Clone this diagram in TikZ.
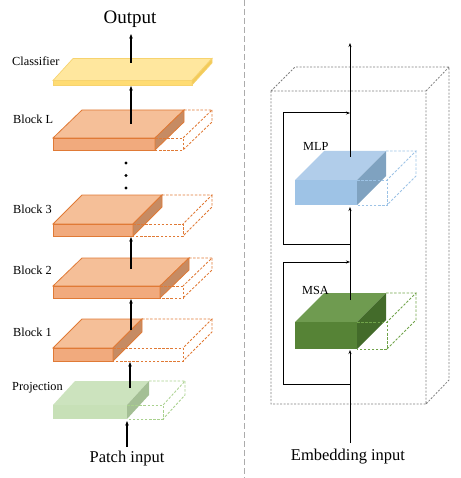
\documentclass[tikz,border=0pt]{standalone}
\usepackage{fontspec}
\setmainfont{Liberation Serif}
\usetikzlibrary{arrows.meta}
\definecolor{orTop}{HTML}{F5BF98}
\definecolor{orFront}{HTML}{F1AA7D}
\definecolor{orSide}{HTML}{C68B63}
\definecolor{orEdge}{HTML}{E07A36}
\definecolor{clTop}{HTML}{FFE79E}
\definecolor{clFront}{HTML}{FFDC73}
\definecolor{clSide}{HTML}{F2CB5A}
\definecolor{clEdge}{HTML}{F7D36E}
\definecolor{prTop}{HTML}{CCE3BE}
\definecolor{prFront}{HTML}{C7E0B7}
\definecolor{prSide}{HTML}{A4BF95}
\definecolor{prEdge}{HTML}{A9D18E}
\definecolor{blTop}{HTML}{B1CDEA}
\definecolor{blFront}{HTML}{9EC3E6}
\definecolor{blSide}{HTML}{7FA2C0}
\definecolor{blEdge}{HTML}{9DC3E6}
\definecolor{gnTop}{HTML}{6F9B50}
\definecolor{gnFront}{HTML}{568336}
\definecolor{gnSide}{HTML}{436B2A}
\definecolor{gnEdge}{HTML}{70A34A}
% #1 x0, #2 yb, #3 h, #4 ws, #5 wd, #6 dx, #7 dy, #8 colour prefix, #9 solid edge style
\newcommand\myslab[9]{%
  \filldraw[#9,fill=#8Top] (#1,{#2-#3}) -- ({#1+#6},{#2-#3-#7}) -- ({#1+#4+#6},{#2-#3-#7}) -- ({#1+#4},{#2-#3}) -- cycle;
  \filldraw[#9,fill=#8Front] (#1,{#2-#3}) rectangle ({#1+#4},#2);
  \filldraw[#9,fill=#8Side] ({#1+#4},{#2-#3}) -- ({#1+#4+#6},{#2-#3-#7}) -- ({#1+#4+#6},{#2-#7}) -- ({#1+#4},#2) -- cycle;
  \ifdim #5pt>#4pt
  \draw[draw=#8Edge,dashpat] ({#1+#4},{#2-#3}) -- ({#1+#5},{#2-#3}) -- ({#1+#5},#2) -- ({#1+#4},#2);
  \draw[draw=#8Edge,dashpat] ({#1+#4+#6},{#2-#3-#7}) -- ({#1+#5+#6},{#2-#3-#7}) -- ({#1+#5},{#2-#3});
  \draw[draw=#8Edge,dashpat] ({#1+#5+#6},{#2-#3-#7}) -- ({#1+#5+#6},{#2-#7}) -- ({#1+#5},#2);
  \fi
}
\tikzset{
  dashpat/.style={line width=0.85pt,dash pattern=on 2.5pt off 1.6pt},
  arr/.style={line width=1.2pt,-{Stealth[length=4.5pt,width=3.5pt]}},
  rarr/.style={line width=1pt,-{Stealth[length=4pt,width=3pt]}},
  lbl/.style={anchor=west,font=\fontsize{12.3}{14}\selectfont,inner sep=0pt},
  big/.style={font=\fontsize{16.5}{19}\selectfont,inner sep=0pt},
}
\begin{document}
\begin{tikzpicture}[x=1pt,y=-1pt]
\useasboundingbox (0,0) rectangle (460,478);
% divider
\draw[color=black!33,line width=1pt,dash pattern=on 6pt off 3pt] (244,0) -- (244,478);

% ---------- left column ----------
\myslab{53}{85}{4.5}{139}{139}{20}{22}{cl}{draw=clEdge,line width=0.7pt}
\myslab{53}{150}{12}{102}{130}{29}{28}{or}{draw=orEdge,line width=0.8pt}
\myslab{53}{236}{12}{80}{130}{29}{29}{or}{draw=orEdge,line width=0.8pt}
\myslab{53}{298}{12}{107}{130}{29}{28}{or}{draw=orEdge,line width=0.8pt}
\myslab{53}{361}{13}{60}{130}{29}{29}{or}{draw=orEdge,line width=0.8pt}
\myslab{53}{419}{14}{74}{110}{22}{24}{pr}{draw=none}

\node[lbl] (lcls) at (12,61) {Classifier};
\node[lbl] (lbL) at (13,119) {Block L};
\node[lbl] (lb3) at (13,209) {Block 3};
\node[lbl] (lb2) at (13,270) {Block 2};
\node[lbl] (lb1) at (13,332) {Block 1};
\node[lbl] (lpr) at (12,388) {Projection};
\node[font=\fontsize{19}{22}\selectfont,inner sep=0pt] (out) at (130,19) {Output};
\node[big] (pin) at (127,459) {Patch input};

\coordinate (clsT) at (131,63);  \coordinate (outB) at (131,34);
\coordinate (bLT) at (131,124);  \coordinate (clsB) at (131,86);
\coordinate (b2T) at (131,269);  \coordinate (b3B) at (131,237);
\coordinate (b1T) at (131,330);  \coordinate (b2B) at (131,299);
\coordinate (prT) at (130,388);  \coordinate (b1B) at (130,362);
\coordinate (pinT) at (127,447); \coordinate (prB) at (127,421);
\draw[arr] (clsT) -- (outB);
\draw[arr] (bLT) -- (clsB);
\draw[arr] (b2T) -- (b3B);
\draw[arr] (b1T) -- (b2B);
\draw[arr] (prT) -- (b1B);
\draw[arr] (pinT) -- (prB);
\fill (126,163) circle (1.6) (126,175.5) circle (1.6) (126,188) circle (1.6);

% ---------- right column ----------
\draw[color=black!50,line width=0.8pt,dash pattern=on 2pt off 1.5pt]
  (271,91) rectangle (426,404)
  (271,91) -- (295,67) -- (449,67) -- (449,380) -- (426,404)
  (426,91) -- (449,67);
\myslab{295}{205}{25}{62}{92}{29}{29}{bl}{draw=none}
\myslab{295}{349}{27}{62}{92}{29}{29}{gn}{draw=none}
\node[lbl] (lmlp) at (303,146) {MLP};
\node[lbl] (lmsa) at (302,290) {MSA};
\node[big] (ein) at (348,457) {Embedding input};

\coordinate (mlpT) at (350,157); \coordinate (topE) at (350,43);
\coordinate (msaT) at (350,300); \coordinate (mlpB) at (350,207);
\coordinate (einT) at (350,443); \coordinate (msaB) at (350,350);
\coordinate (r1a) at (350,244);  \coordinate (r1b) at (283,113); \coordinate (r1c) at (350,113);
\coordinate (r2a) at (350,384);  \coordinate (r2b) at (283,262); \coordinate (r2c) at (350,262);
\draw[rarr] (mlpT) -- (topE);
\draw[rarr] (msaT) -- (mlpB);
\draw[rarr] (einT) -- (msaB);
\draw[rarr] (r1a) -| (r1b) -- (r1c);
\draw[rarr] (r2a) -| (r2b) -- (r2c);
\end{tikzpicture}
\end{document}
